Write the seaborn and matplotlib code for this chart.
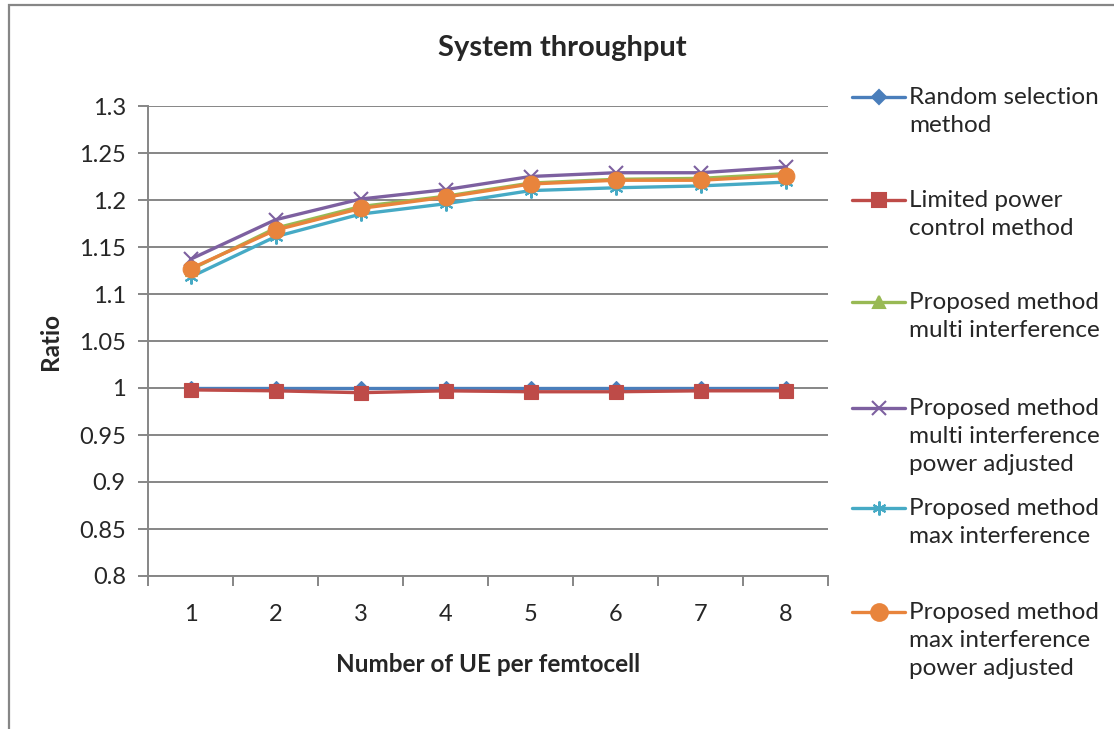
import numpy as np
import pandas as pd
import matplotlib.pyplot as plt
from matplotlib.lines import Line2D
from matplotlib.patches import Rectangle
import seaborn as sns

# data
ue_per_cell = [1, 2, 3, 4, 5, 6, 7, 8]
random_selection = [1.0, 1.0, 1.0, 1.0, 1.0, 1.0, 1.0, 1.0]
limited_power = [0.998, 0.997, 0.995, 0.997, 0.996, 0.996, 0.997, 0.997]
multi_interf = [1.126, 1.170, 1.193, 1.204, 1.218, 1.222, 1.223, 1.228]
multi_interf_pa = [1.137, 1.179, 1.201, 1.211, 1.225, 1.229, 1.229, 1.235]
max_interf = [1.118, 1.161, 1.185, 1.196, 1.210, 1.213, 1.215, 1.219]
max_interf_pa = [1.127, 1.168, 1.191, 1.203, 1.217, 1.221, 1.221, 1.226]

labels = ["Random selection\nmethod",
          "Limited power\ncontrol method",
          "Proposed method\nmulti interference",
          "Proposed method\nmulti interference\npower adjusted",
          "Proposed method\nmax interference",
          "Proposed method\nmax interference\npower adjusted"]
series = [random_selection, limited_power, multi_interf,
          multi_interf_pa, max_interf, max_interf_pa]
colors = ["#4A7EBB", "#BE4B48", "#98B954", "#7D60A0", "#46AAC5", "#E8843C"]
markers = ["D", "s", "^", "x", (6, 2, 0), "o"]
msizes = [7, 10, 8, 10, 10, 12]

sns.set_style("white")
plt.rcParams['font.family'] = ['Lato', 'DejaVu Sans']

fig = plt.figure(figsize=(11.14, 7.29), dpi=100)
ax = fig.add_axes([148 / 1114, 1 - 576 / 729, (828 - 148) / 1114, (576 - 106) / 729])

for lab, vals, c, m, ms in zip(labels, series, colors, markers, msizes):
    df = pd.DataFrame({"ue": ue_per_cell, "ratio": vals})
    sns.lineplot(data=df, x="ue", y="ratio", ax=ax, color=c, marker=m,
                 markersize=ms, linewidth=2.4, markeredgecolor=c,
                 markeredgewidth=1.5 if m in ("x",) or isinstance(m, tuple) else 0.8)

ax.set_xlim(0.5, 8.5)
ax.set_ylim(0.8, 1.3)
ax.set_yticks(np.arange(0.8, 1.3001, 0.05))
ax.set_yticklabels(["0.8", "0.85", "0.9", "0.95", "1", "1.05", "1.1",
                    "1.15", "1.2", "1.25", "1.3"])
ax.set_xticks(ue_per_cell)
ax.set_xticklabels([str(v) for v in ue_per_cell])
ax.set_xticks(np.arange(0.5, 8.6, 1), minor=True)
ax.grid(axis="y", color="#868686", linewidth=1.4)
ax.set_axisbelow(True)
for s in ["top", "right"]:
    ax.spines[s].set_visible(False)
for s in ["left", "bottom"]:
    ax.spines[s].set_color("#868686")
    ax.spines[s].set_linewidth(1.4)
ax.tick_params(axis="y", which="major", left=True, length=7, width=1.4,
               color="#868686", labelsize=17, pad=9)
ax.tick_params(axis="x", which="major", bottom=False, labelsize=17, pad=17)
ax.tick_params(axis="x", which="minor", bottom=True, length=7, width=1.4,
               color="#868686")
ax.set_xlabel("Number of UE per femtocell", fontsize=17.5, fontweight="bold", labelpad=20)
ax.set_ylabel("Ratio", fontsize=17.5, fontweight="bold", labelpad=12)
fig.text(562 / 1114, 1 - 48 / 729, "System throughput", fontsize=21,
         fontweight="bold", ha="center", va="center")

# legend drawn as Excel lays it out (handle next to the first line)
leg_y = [97, 200, 302, 408, 508, 612]
for lab, c, m, ms, y in zip(labels, colors, markers, msizes, leg_y):
    yf = 1 - y / 729
    fig.add_artist(Line2D([852 / 1114, 905 / 1114], [yf, yf], color=c,
                          linewidth=2.4, transform=fig.transFigure))
    fig.add_artist(Line2D([878.5 / 1114], [yf], color=c, marker=m, markersize=ms,
                          markeredgecolor=c, markeredgewidth=1.5,
                          transform=fig.transFigure))
    fig.text(909 / 1114, yf + 10 / 729, lab, fontsize=17.5, ha="left", va="top",
             linespacing=1.42, transform=fig.transFigure)

fig.add_artist(Rectangle((9 / 1114, -0.05), 1.1, 1 - 5 / 729 + 0.05, fill=False,
                         edgecolor="#868686", linewidth=1.6,
                         transform=fig.transFigure))

fig.savefig("out.png", dpi=100)
